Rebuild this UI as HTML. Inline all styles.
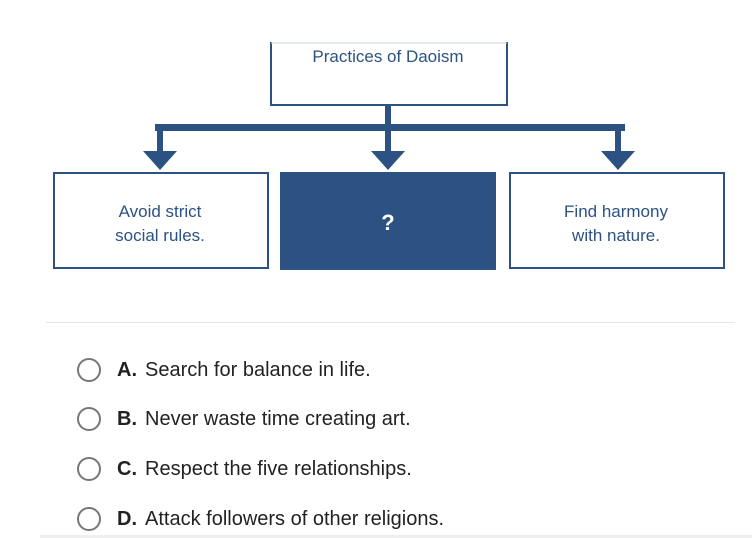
<!DOCTYPE html>
<html><head><style>
body{margin:0;width:752px;height:538px;background:#fff;position:relative;overflow:hidden;font-family:"Liberation Sans",sans-serif}
.opt{position:absolute;left:77px;height:24px;display:flex;align-items:center;font-size:20px;color:#222}
.opt i{display:inline-block;width:20px;height:20px;border:2px solid #777;border-radius:50%;margin-right:16px;box-sizing:content-box}
.opt b{margin-right:8px}
</style></head><body>
<svg width="752" height="538" style="position:absolute;left:0;top:0" font-family="Liberation Sans, sans-serif">
<g fill="none" stroke="#2b5282" stroke-width="2">
<polyline points="271,42 271,105 507,105 507,42"/>
<line x1="271" y1="43" x2="507" y2="43" stroke="#c9d3e0" stroke-width="1"/>
<rect x="54" y="173" width="214" height="95"/>
<rect x="510" y="173" width="214" height="95"/>
</g>
<rect x="280" y="172" width="216" height="98" fill="#2b5282"/>
<g fill="#2b5282">
<rect x="385" y="105" width="6" height="26"/>
<rect x="155" y="124" width="470" height="7"/>
<rect x="157" y="124" width="6" height="28"/>
<rect x="385" y="124" width="6" height="28"/>
<rect x="615" y="124" width="6" height="28"/>
<polygon points="143,151 177,151 160,170"/>
<polygon points="371,151 405,151 388,170"/>
<polygon points="601,151 635,151 618,170"/>
</g>
<g fill="#2b5282" font-size="17" text-anchor="middle">
<text x="388" y="62">Practices of Daoism</text>
<text x="160" y="217">Avoid strict</text>
<text x="160" y="241">social rules.</text>
<text x="616" y="217">Find harmony</text>
<text x="616" y="241">with nature.</text>
</g>
<text x="388" y="230" fill="#fff" font-size="22" font-weight="bold" text-anchor="middle">?</text>
<line x1="46" y1="322.5" x2="735" y2="322.5" stroke="#e6e6e6" stroke-width="1"/>
<rect x="40" y="535" width="712" height="3" fill="#efefef"/>
</svg>
<div class="opt" style="top:358px"><i></i><b>A.</b>Search for balance in life.</div>
<div class="opt" style="top:407px"><i></i><b>B.</b>Never waste time creating art.</div>
<div class="opt" style="top:457px"><i></i><b>C.</b>Respect the five relationships.</div>
<div class="opt" style="top:507px"><i></i><b>D.</b>Attack followers of other religions.</div>
</body></html>
